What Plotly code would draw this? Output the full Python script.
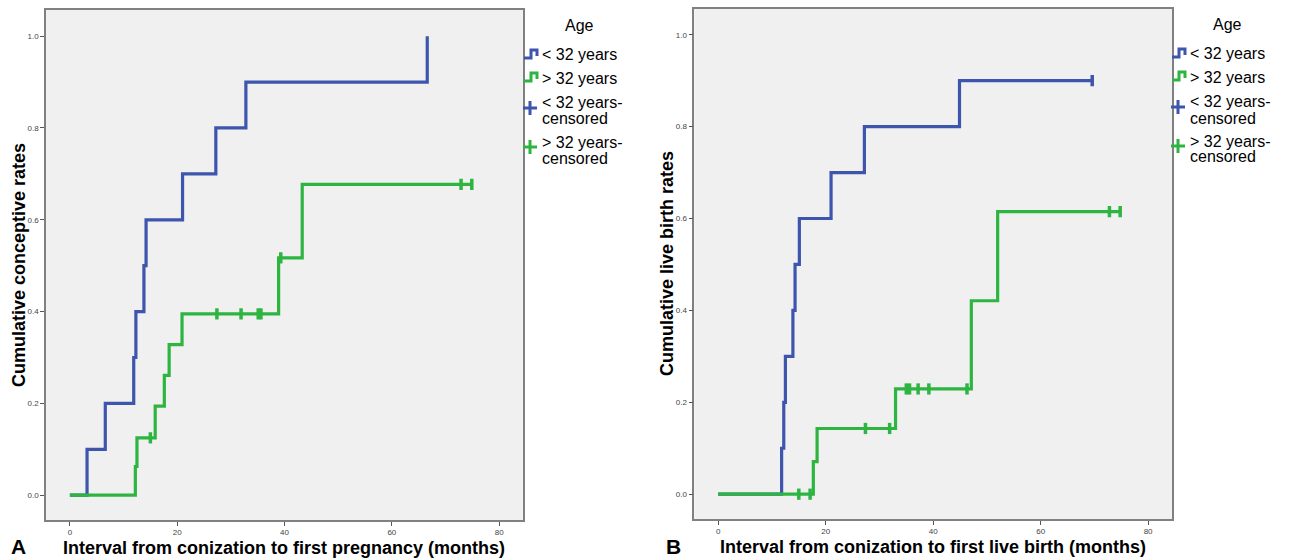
import plotly.graph_objects as go

# ---------------- Data ----------------
# Panel A: cumulative conceptive rates
a_lt32_time = [0, 3.2, 6.6, 11.9, 12.3, 13.8, 14.2, 21.0, 27.2, 32.8, 66.6]
a_lt32_rate = [0, 0.1, 0.2, 0.3, 0.4, 0.5, 0.6, 0.7, 0.8, 0.9, 1.0]
a_lt32_cens = []
a_gt32_time = [0, 12.2, 12.5, 15.9, 17.6, 18.5, 20.9, 38.9, 43.3, 74.9]
a_gt32_rate = [0, 0.0625, 0.125, 0.194, 0.261, 0.328, 0.395, 0.517, 0.677, 0.677]
a_gt32_cens = [15.0, 27.4, 31.9, 35.1, 35.6, 39.3, 72.9, 74.9]

# Panel B: cumulative live birth rates
b_lt32_time = [0, 11.8, 12.2, 12.5, 13.9, 14.3, 15.1, 21.0, 27.2, 44.9, 69.6]
b_lt32_rate = [0, 0.1, 0.2, 0.3, 0.4, 0.5, 0.6, 0.7, 0.8, 0.9, 0.9]
b_lt32_cens = [69.6]
b_gt32_time = [0, 17.7, 18.4, 33.0, 47.1, 52.0, 74.8]
b_gt32_rate = [0, 0.071, 0.143, 0.229, 0.421, 0.615, 0.615]
b_gt32_cens = [15.0, 17.1, 27.4, 31.9, 35.0, 35.6, 37.2, 39.2, 46.3, 72.8, 74.8]

x_ticks = [0, 20, 40, 60, 80]
y_ticks = [0.0, 0.2, 0.4, 0.6, 0.8, 1.0]
y_tick_text = ["0.0", "0.2", "0.4", "0.6", "0.8", "1.0"]

legend_title = "Age"
group_names = ["< 32 years", "> 32 years"]

BLUE = "#3d55ad"
GREEN = "#2db441"
FONT = "Arial, Liberation Sans, sans-serif"
W, H = 1293, 559


def step_value(times, rates, t):
    v = rates[0]
    for ti, ri in zip(times, rates):
        if ti <= t:
            v = ri
    return v


fig = go.Figure()

panels = [
    ("x", "y", a_lt32_time, a_lt32_rate, a_lt32_cens, a_gt32_time, a_gt32_rate, a_gt32_cens),
    ("x2", "y2", b_lt32_time, b_lt32_rate, b_lt32_cens, b_gt32_time, b_gt32_rate, b_gt32_cens),
]

for xa, ya, t1, r1, c1, t2, r2, c2 in panels:
    for t, r, c, col, name in [(t1, r1, c1, BLUE, group_names[0]), (t2, r2, c2, GREEN, group_names[1])]:
        fig.add_trace(go.Scatter(x=t, y=r, mode="lines", line=dict(color=col, width=3.2, shape="hv"),
                                 name=name, xaxis=xa, yaxis=ya, showlegend=False, hoverinfo="x+y"))
        if c:
            fig.add_trace(go.Scatter(x=c, y=[step_value(t, r, ci) for ci in c], mode="markers",
                                     marker=dict(symbol="line-ns", size=8, line=dict(color=col, width=3.5)),
                                     name=name + "-censored", xaxis=xa, yaxis=ya, showlegend=False))


def px(x):
    return x / W


def py(y):
    return 1 - y / H


axis_common = dict(
    range=[-4.45, 84.5], tickvals=x_ticks, ticks="outside", ticklen=4, tickwidth=1, tickcolor="#555",
    showgrid=False, zeroline=False, showline=True, linecolor="#808080", linewidth=1.5, mirror=True,
    tickfont=dict(family=FONT, size=8, color="#444"),
)
yaxis_common = dict(
    range=[-0.054, 1.057], tickvals=y_ticks, ticktext=y_tick_text, ticks="outside", ticklen=4, tickwidth=1,
    tickcolor="#555", showgrid=False, zeroline=False, showline=True, linecolor="#808080", linewidth=1.5,
    mirror=True, tickfont=dict(family=FONT, size=8, color="#444"),
)

fig.update_layout(
    width=W, height=H, margin=dict(l=0, r=0, t=0, b=0),
    paper_bgcolor="white", plot_bgcolor="#f0f0f0", showlegend=False,
    xaxis=dict(domain=[px(46), px(523.3)], anchor="y", **axis_common),
    yaxis=dict(domain=[py(520), py(10)], anchor="x", **yaxis_common),
    xaxis2=dict(domain=[px(694.3), px(1172.3)], anchor="y2", **axis_common),
    yaxis2=dict(domain=[py(519), py(8.5)], anchor="x2", **yaxis_common),
)

ann = []


def text(x, y, s, size, bold=False, angle=0, xanchor="center"):
    ann.append(dict(x=px(x), y=py(y), xref="paper", yref="paper", text=("<b>%s</b>" % s) if bold else s,
                    showarrow=False, xanchor=xanchor, yanchor="middle", textangle=angle,
                    font=dict(family=FONT, size=size, color="black")))


# axis titles
text(284, 548, "Interval from conization to first pregnancy (months)", 18, bold=True)
text(932.5, 547, "Interval from conization to first live birth (months)", 18, bold=True)
text(19, 265, "Cumulative conceptive rates", 18, bold=True, angle=-90)
text(667, 264, "Cumulative live birth rates", 18, bold=True, angle=-90)
text(18, 546, "A", 21, bold=True)
text(673, 546, "B", 21, bold=True)

shapes = []


def legend(x0, ys):
    # ys: y of Age, row1, row2, row3a, row3b, row4a, row4b
    text(x0 + 55, ys[0], legend_title, 16)
    tx = x0 + 16
    fs = 16
    text(tx, ys[1], group_names[0], fs, xanchor="left")
    text(tx, ys[2], group_names[1], fs, xanchor="left")
    text(tx, ys[3], group_names[0] + "-", fs, xanchor="left")
    text(tx, ys[4], "censored", fs, xanchor="left")
    text(tx, ys[5], group_names[1] + "-", fs, xanchor="left")
    text(tx, ys[6], "censored", fs, xanchor="left")
    for row, col in [(ys[1], BLUE), (ys[2], GREEN)]:
        path = "M %f,%f L %f,%f L %f,%f L %f,%f L %f,%f" % (
            px(x0), py(row + 3), px(x0 + 7), py(row + 3), px(x0 + 7), py(row - 5),
            px(x0 + 13), py(row - 5), px(x0 + 13), py(row + 1))
        shapes.append(dict(type="path", xref="paper", yref="paper", path=path,
                           line=dict(color=col, width=3)))
    for row, col in [((ys[3] + ys[4]) / 2 - 3, BLUE), ((ys[5] + ys[6]) / 2 - 3, GREEN)]:
        cx = x0 + 6
        shapes.append(dict(type="line", xref="paper", yref="paper", x0=px(cx - 7), x1=px(cx + 7),
                           y0=py(row), y1=py(row), line=dict(color=col, width=3)))
        shapes.append(dict(type="line", xref="paper", yref="paper", x0=px(cx), x1=px(cx),
                           y0=py(row - 7), y1=py(row + 7), line=dict(color=col, width=3)))


legend(524, [26, 55, 78, 103, 119, 142, 158])
legend(1172, [25, 54, 77, 102, 118, 141, 157])

fig.update_layout(annotations=ann, shapes=shapes)
fig.write_html("out.html", config={"displayModeBar": False},
               post_script="document.body.style.margin='0px';document.body.style.overflow='hidden';")
